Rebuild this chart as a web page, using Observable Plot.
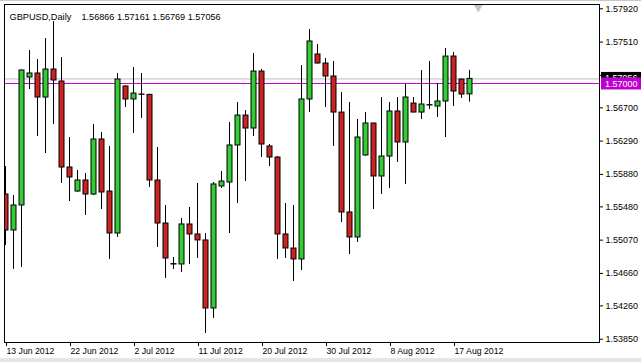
<!DOCTYPE html>
<html><head><meta charset="utf-8">
<script src="https://cdn.jsdelivr.net/npm/d3@7"></script>
<script src="https://cdn.jsdelivr.net/npm/@observablehq/plot@0.6"></script>
<style>
html,body{margin:0;padding:0;background:#fff;overflow:hidden;}
#top{height:1px;background:#c8c8c8;}
#bot{height:4px;background:#e6e6e6;}
#chart svg{display:block;}
</style></head><body>
<div id="top"></div><div id="chart"></div><div id="bot"></div>
<script>
const symbol = "GBPUSD,Daily";
const days = ["13 Jun","14 Jun","15 Jun","17 Jun","18 Jun","19 Jun","20 Jun","21 Jun","22 Jun","24 Jun","25 Jun","26 Jun","27 Jun","28 Jun","29 Jun","1 Jul","2 Jul","3 Jul","4 Jul","5 Jul","6 Jul","8 Jul","9 Jul","10 Jul","11 Jul","12 Jul","13 Jul","15 Jul","16 Jul","17 Jul","18 Jul","19 Jul","20 Jul","22 Jul","23 Jul","24 Jul","25 Jul","26 Jul","27 Jul","29 Jul","30 Jul","31 Jul","1 Aug","2 Aug","3 Aug","5 Aug","6 Aug","7 Aug","8 Aug","9 Aug","10 Aug","12 Aug","13 Aug","14 Aug","15 Aug","16 Aug","17 Aug","19 Aug","20 Aug"];
const opens = [1.55632,1.55189,1.55497,1.57074,1.57123,1.56827,1.57172,1.57024,1.55965,1.55669,1.55805,1.55632,1.56310,1.55669,1.55152,1.56963,1.56803,1.56864,1.56860,1.55805,1.55275,1.54770,1.54770,1.55263,1.55140,1.55066,1.54228,1.55731,1.55780,1.56236,1.56605,1.56445,1.57147,1.56224,1.56088,1.55140,1.54967,1.54832,1.56803,1.57357,1.57246,1.57086,1.56642,1.55411,1.55103,1.56113,1.56507,1.55854,1.56100,1.56655,1.56273,1.56753,1.56642,1.56729,1.56716,1.56778,1.57332,1.57049,1.56866];
const highs = [1.55977,1.55620,1.57165,1.57406,1.57295,1.57554,1.57763,1.57320,1.56334,1.55928,1.55891,1.56495,1.56396,1.56224,1.57123,1.56970,1.57197,1.57123,1.56866,1.56211,1.55497,1.54856,1.55337,1.55472,1.55768,1.55152,1.55780,1.55916,1.56519,1.56766,1.56667,1.57369,1.57172,1.56248,1.56100,1.55521,1.55497,1.57221,1.57665,1.57480,1.57308,1.57271,1.56889,1.56766,1.56556,1.56642,1.56510,1.56827,1.56766,1.56827,1.56987,1.56827,1.57160,1.57271,1.57000,1.57431,1.57382,1.57052,1.57161];
const lows = [1.55004,1.54709,1.54733,1.56926,1.56347,1.56137,1.56495,1.55768,1.55546,1.55660,1.55374,1.55620,1.55448,1.54832,1.55103,1.56704,1.56384,1.56569,1.55719,1.54980,1.54598,1.54709,1.54672,1.54770,1.54844,1.53920,1.54105,1.55706,1.55152,1.55521,1.55792,1.56347,1.56088,1.55977,1.54832,1.54844,1.54561,1.54696,1.56642,1.57240,1.56704,1.56224,1.55287,1.54893,1.55041,1.56105,1.55448,1.55632,1.55706,1.56027,1.55756,1.56640,1.56556,1.56679,1.56581,1.56334,1.56716,1.56815,1.56769];
const closes = [1.55189,1.55497,1.57160,1.57123,1.56827,1.57172,1.57037,1.55965,1.55842,1.55805,1.55632,1.56310,1.55657,1.55152,1.57049,1.56803,1.56876,1.56860,1.55805,1.55275,1.54844,1.54775,1.55263,1.55140,1.55066,1.54228,1.55756,1.55792,1.56236,1.56605,1.56445,1.57147,1.56248,1.56088,1.55140,1.54967,1.54832,1.56803,1.57517,1.57246,1.57086,1.56642,1.55411,1.55103,1.56334,1.56507,1.55854,1.56100,1.56655,1.56273,1.56827,1.56642,1.56741,1.56733,1.56778,1.57332,1.56901,1.56864,1.57056];
const xTickLabels = ["13 Jun 2012","22 Jun 2012","2 Jul 2012","11 Jul 2012","20 Jul 2012","30 Jul 2012","8 Aug 2012","17 Aug 2012"];
const yTicks = [1.57920,1.57510,1.57100,1.56700,1.56290,1.55880,1.55480,1.55070,1.54660,1.54260,1.53850];
const levelLine = 1.57000;
const bidPrice = 1.57056;

const bars = days.map((d, i) => ({i, day: d, o: opens[i], h: highs[i], l: lows[i], c: closes[i]}));
const xTickIdx = xTickLabels.map(s => days.indexOf(s.replace(" 2012", "")));
const last = bars[bars.length - 1];
const quote = `${last.o.toFixed(5)} ${last.h.toFixed(5)} ${last.l.toFixed(5)} ${last.c.toFixed(5)}`;

const GREEN = "#33cc33", RED = "#cc2222", LEVEL = "#c000d0";
const font = "'Liberation Sans', Arial, sans-serif";

const plot = Plot.plot({
  width: 641, height: 357,
  marginLeft: 4, marginRight: 42, marginTop: 3, marginBottom: 16,
  style: {fontFamily: font, fontSize: "9px", background: "#fff", color: "#000"},
  x: {type: "linear", domain: [-0.125, 74.25], axis: null},
  y: {type: "linear", domain: [1.53809, 1.57973], axis: null},
  marks: [
    Plot.ruleY([bidPrice], {stroke: "#bdbdbd", strokeWidth: 1}),
    Plot.ruleY([levelLine], {stroke: LEVEL, strokeWidth: 1}),
    Plot.ruleX(bars, {x: "i", y1: "l", y2: "h", stroke: "#000", strokeWidth: 1, clip: true}),
    Plot.rect(bars, {x1: d => d.i - 0.25, x2: d => d.i + 0.375, y1: "o", y2: "c",
      fill: d => d.c >= d.o ? GREEN : RED, stroke: "#000", strokeWidth: 1, clip: true}),
    Plot.frame({stroke: "#000"}),
    Plot.axisX({anchor: "bottom", ticks: xTickIdx, tickFormat: (d) => xTickLabels[xTickIdx.indexOf(d)],
      tickSize: 4, tickPadding: 1, textAnchor: "start", dx: 1, label: null, fontSize: 8.7, stroke: "#000"}),
    Plot.axisY({anchor: "right", ticks: yTicks, tickFormat: d => d.toFixed(5),
      tickSize: 3, tickPadding: 3, label: null, fontSize: 9, stroke: "#000"}),
    Plot.text([symbol], {frameAnchor: "top-left", dx: 5, dy: 9, textAnchor: "start", fontSize: 9.2, fill: "#000"}),
    Plot.text([quote], {frameAnchor: "top-left", dx: 77, dy: 9, textAnchor: "start", fontSize: 9.1, fill: "#000"}),
    Plot.dot([0], {x: () => last.i + 1.1, frameAnchor: "top", dy: 3, symbol: "triangle", rotate: 180, r: 3.2, fill: "#c4c4c4", stroke: "none"})
  ]
});

const svg = d3.select(plot);
document.getElementById("chart").appendChild(plot);

// price labels on the right, positioned via the plot's y scale
const ys = plot.scale("y");
function priceLabel(price, bg, dy) {
  const y = ys.apply(price) + dy;
  const g = svg.append("g");
  g.append("rect").attr("x", 601).attr("y", y - 6).attr("width", 40).attr("height", 12).attr("fill", bg);
  g.append("text").attr("x", 605).attr("y", y).attr("dy", "0.35em").attr("text-anchor", "start")
    .attr("fill", "#fff").attr("font-size", 9).attr("font-family", font).text(price.toFixed(5));
}
priceLabel(bidPrice, "#000", -0.5);
priceLabel(levelLine, LEVEL, 0.5);
</script>
</body></html>
